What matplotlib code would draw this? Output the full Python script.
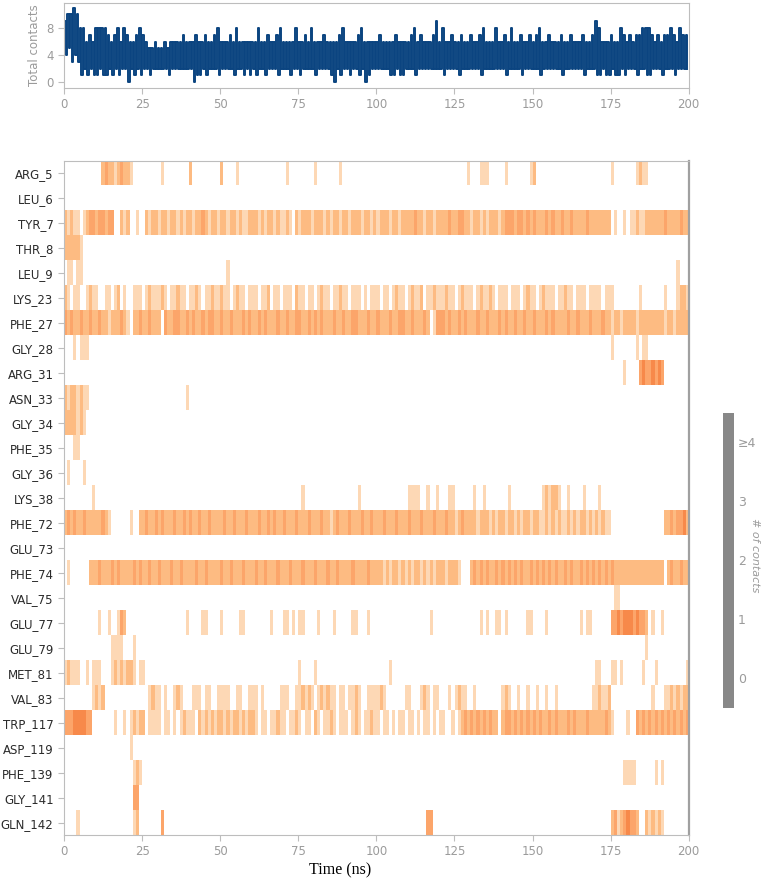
import numpy as np
import matplotlib
matplotlib.use("Agg")
import matplotlib.pyplot as plt
from matplotlib.colors import ListedColormap, BoundaryNorm

# residues, top to bottom
residues = ["ARG_5", "LEU_6", "TYR_7", "THR_8", "LEU_9", "LYS_23", "PHE_27",
            "GLY_28", "ARG_31", "ASN_33", "GLY_34", "PHE_35", "GLY_36",
            "LYS_38", "PHE_72", "GLU_73", "PHE_74", "VAL_75", "GLU_77",
            "GLU_79", "MET_81", "VAL_83", "TRP_117", "ASP_119", "PHE_139",
            "GLY_141", "GLN_142"]

# contacts per residue, one digit per ns (0..200 ns)
contacts = [
    # ARG_5
    "0000000000 0023221232 2100000000 0100000000 2000000000 2000010000 0000000000 0100000000 1000000010 0000000000 "
    "0000000000 0000000000 0000000001 0001110000 0100000001 2000000000 0000000000 0000010000 0001211000 0000000000",
    # LEU_6
    "0000000000 0000000000 0000000000 0000000000 0000000000 0000000000 0000000000 0000000000 0000000000 0000000000 "
    "0000000000 0000000000 0000000000 0000000000 0000000000 0000000000 0000000000 0000000000 0000000000 0000000000",
    # TYR_7
    "2121101233 2332330021 2001002122 1221221212 2122321221 2212212112 2212122121 1210212221 2221212212 2122212212 "
    "1222122122 2232212212 2223223322 1221212221 2333233232 3222323223 2232222322 2222201001 0112112222 2232222322",
    # THR_8
    "2222210000 0000000000 0000000000 0000000000 0000000000 0000000000 0000000000 0000000000 0000000000 0000000000 "
    "0000000000 0000000000 0000000000 0000000000 0000000000 0000000000 0000000000 0000000000 0000000000 0000000000",
    # LEU_9
    "0110110000 0000000000 0000000000 0000000000 0000000000 0010000000 0000000000 0000000000 0000000000 0000000000 "
    "0000000000 0000000000 0000000000 0000000000 0000000000 0000000000 0000000000 0000000000 0000000000 0000001000",
    # LYS_23
    "2101100121 1001101201 0011101211 1210112110 1121011211 2110121101 1101120110 1110211011 0121101121 1011101011 "
    "1011012110 1211201121 1121101211 1012112101 1101110121 1012111011 2110111011 1101110000 0000100000 0010001221",
    # PHE_27
    "3232232232 2322122232 1022322322 2032233223 2322323322 3223222323 2232322232 2322332232 3232223223 2233222322 "
    "3222322332 2322232013 3323223232 2232232223 2322322322 3222323222 2322322232 2232212212 2221222222 2212212222",
    # GLY_28
    "0001011100 0000000000 0000000000 0000000000 0000000000 0000000000 0000000000 0000000000 0000000000 0000000000 "
    "0000000000 0000000000 0000000000 0000000000 0000000000 0000000000 0000000000 0000010000 0001011000 0000000000",
    # ARG_31
    "0000000000 0000000000 0000000000 0000000000 0000000000 0000000000 0000000000 0000000000 0000000000 0000000000 "
    "0000000000 0000000000 0000000000 0000000000 0000000000 0000000000 0000000000 0000000001 0000343343 4300000000",
    # ASN_33
    "2122121100 0000000000 0000000000 0000000001 0000000000 0000000000 0000000000 0000000000 0000000000 0000000000 "
    "0000000000 0000000000 0000000000 0000000000 0000000000 0000000000 0000000000 0000000000 0000000000 0000000000",
    # GLY_34
    "2222121000 0000000000 0000000000 0000000000 0000000000 0000000000 0000000000 0000000000 0000000000 0000000000 "
    "0000000000 0000000000 0000000000 0000000000 0000000000 0000000000 0000000000 0000000000 0000000000 0000000000",
    # PHE_35
    "0001100000 0000000000 0000000000 0000000000 0000000000 0000000000 0000000000 0000000000 0000000000 0000000000 "
    "0000000000 0000000000 0000000000 0000000000 0000000000 0000000000 0000000000 0000000000 0000000000 0000000000",
    # GLY_36
    "0100001000 0000000000 0000000000 0000000000 0000000000 0000000000 0000000000 0000000000 0000000000 0000000000 "
    "0000000000 0000000000 0000000000 0000000000 0000000000 0000000000 0000000000 0000000000 0000000000 0000000000",
    # LYS_38
    "0000000001 0000000000 0000000000 0000000000 0000000000 0000000000 0000000000 0000001000 0000000000 0000100000 "
    "0000000000 1111001001 0001100000 0100100000 0010000000 0001212210 0100001000 0100000000 0000000000 0000000000",
    # PHE_72
    "2323223222 2232100000 0100223223 2322232232 3223223222 2322322232 2232232322 3222322232 2232212322 2322232232 "
    "2232223222 3222322232 2232212322 2212221212 2122121221 2211212121 1212122121 2121100000 0000000000 0022323342",
    # GLU_73
    "0000000000 0000000000 0000000000 0000000000 0000000000 0000000000 0000000000 0000000000 0000000000 0000000000 "
    "0000000000 0000000000 0000000000 0000000000 0000000000 0000000000 0000000000 0000000000 0000000000 0000000000",
    # PHE_74
    "0100000022 2322232322 2232322322 3222322322 2232232222 3223222322 2322322232 2232223222 3222322322 2232222322 "
    "2212122121 2122121212 2212221000 2323232232 3232323223 2323232322 3232232323 2323232222 2222222222 2202322322",
    # VAL_75
    "0000000000 0000000000 0000000000 0000000000 0000000000 0000000000 0000000000 0000000000 0000000000 0000000000 "
    "0000000000 0000000000 0000000000 0000000000 0000000000 0000000000 0000000000 0000001100 0000000000 0000000000",
    # GLU_77
    "0000000000 0100100132 0000000000 0000000001 0000110000 1000001100 0000001000 1101011000 0100001000 0011000100 "
    "0000000000 0000000100 0000000000 0001010011 0100000011 0000100000 0000010110 0000033434 4434332010 0100000000",
    # GLU_79
    "0000000000 0000011110 0010000000 0000000000 0000000000 0000000000 0000000000 0000000000 0000000000 0000000000 "
    "0000000000 0000000000 0000000000 0000000000 0000000000 0000000000 0000000000 0000000000 0000001000 0000000000",
    # MET_81
    "1211100101 1100012121 2210110000 0000000000 0000000000 0000000000 0000000000 0000010000 1000000000 0000000000 "
    "0000100000 0000000000 0000000000 0000000000 0000000000 0000000000 0000000000 1100011010 0000010001 0000000001",
    # VAL_83
    "0000000001 2120000000 0000000121 1010012100 0111011001 1110011001 1101000001 1100112121 0121211011 0112100111 "
    "1210000001 1000121011 0001012110 0100000000 1210010010 0100100100 0000000001 1211200000 0000000010 0011212122",
    # TRP_117
    "3334444330 0000001001 0121220111 1011010121 1102121212 2121221212 2101101121 1011210110 2101121011 1012101121 "
    "1011010110 1101011010 1100101232 3232323220 2332323232 3232232322 2323222322 2223210000 1003232323 2323232323",
    # ASP_119
    "0000000000 0000000000 0100000000 0000000000 0000000000 0000000000 0000000000 0000000000 0000000000 0000000000 "
    "0000000000 0000000000 0000000000 0000000000 0000000000 0000000000 0000000000 0000000000 0000000000 0000000000",
    # PHE_139
    "0000000000 0000000000 0012100000 0000000000 0000000000 0000000000 0000000000 0000000000 0000000000 0000000000 "
    "0000000000 0000000000 0000000000 0000000000 0000000000 0000000000 0000000000 0000000001 1110000001 0100000000",
    # GLY_141
    "0000000000 0000000000 0033000000 0000000000 0000000000 0000000000 0000000000 0000000000 0000000000 0000000000 "
    "0000000000 0000000000 0000000000 0000000000 0000000000 0000000000 0000000000 0000000000 0000000000 0000000000",
    # GLN_142
    "0000100000 0000000000 0012000000 0300000000 0000000000 0000000000 0000000000 0000000000 0000000000 0000000000 "
    "0000000000 0000003300 0000000000 0000000000 0000000000 0000000000 0000000000 0000023123 4332002121 2100000000",
]

# total contacts: per-ns upper and lower swing of the trace (hex digits)
total_high = ("9aaba88676 8888767868 7667876556 5565666676 6676676678 6667686666 6686676678 6666866768 6667666678 6666786666 "
              "6766667666 6786766679 6866766766 7667866686 6768667667 6786676667 6676667667 9866676687 6767788876 7677876877")
total_low = ("4534312121 1211212122 0212122122 2221222222 2011212221 2222122121 2122122212 2212212222 1222210212 2122120122 "
             "2222112112 2212222222 2122221222 2221222222 2122221222 2212222221 2222221222 1121121121 2221221122 2122212222")

cbar_labels = ["0", "1", "2", "3", "\u22654"]

grid = np.array([[int(c) for c in row.replace(" ", "")] for row in contacts])
assert grid.shape == (len(residues), 200)
hi = np.array([int(c, 16) for c in total_high.replace(" ", "")])
lo = np.array([int(c, 16) for c in total_low.replace(" ", "")])

grey = "#9b9b9b"
spine = "#bdbdbd"

fig = plt.figure(figsize=(7.62, 8.8), dpi=100)

# --- total contacts trace
ax_top = fig.add_axes([0.084, 0.9005, 0.8198, 0.0962])
t = np.arange(200)
xs = np.column_stack([t, t + 0.5]).ravel()
ys = np.column_stack([hi, lo]).ravel()
ax_top.plot(xs, ys, color="#0b4480", lw=1.4, drawstyle="steps-post")
ax_top.set_xlim(0, 200)
ax_top.set_ylim(-0.8, 11.7)
ax_top.set_yticks([0, 4, 8])
ax_top.set_xticks(range(0, 201, 25))
ax_top.set_ylabel("Total contacts", color=grey, fontsize=8.5, labelpad=4)
ax_top.tick_params(colors=spine, labelcolor=grey, labelsize=8.5, length=4)
for s in ax_top.spines.values():
    s.set_color(spine)

# --- per-residue timeline
cmap = ListedColormap(["#ffffff", "#fdd8b5", "#fdbb82", "#fca56a", "#f7894a"])
norm = BoundaryNorm([-0.5, 0.5, 1.5, 2.5, 3.5, 4.5], cmap.N)
ax = fig.add_axes([0.084, 0.0511, 0.8198, 0.766])
ax.imshow(grid, cmap=cmap, norm=norm, aspect="auto", interpolation="nearest",
          extent=(0, 200, len(residues) - 0.5, -0.5))
ax.set_xlim(0, 200)
ax.set_yticks(range(len(residues)))
ax.set_yticklabels(residues)
ax.set_xticks(range(0, 201, 25))
ax.tick_params(axis="y", colors=spine, labelcolor="#2b2b2b", labelsize=8.5, length=4)
ax.tick_params(axis="x", colors=spine, labelcolor=grey, labelsize=8.5, length=4)
for s in ax.spines.values():
    s.set_color(spine)
ax.spines["right"].set_color("#a0a0a0")
ax.spines["right"].set_linewidth(1.6)
fig.text(340 / 762, 1 - 870 / 880, "Time (ns)", family="Liberation Serif",
         fontsize=11.5, ha="center", va="center")

# --- colour key
cax = fig.add_axes([0.9488, 0.1955, 0.0144, 0.3352])
cax.set_facecolor("#888888")
cax.set_xlim(0, 1)
cax.set_ylim(0, 5)
cax.set_xticks([])
cax.set_yticks([0.5, 1.5, 2.5, 3.5, 4.5])
cax.set_yticklabels(cbar_labels)
cax.yaxis.tick_right()
cax.tick_params(axis="y", length=0, pad=3, labelcolor=grey, labelsize=9)
for s in cax.spines.values():
    s.set_visible(False)
fig.text(755 / 762, 1 - 555 / 880, "# of contacts", rotation=270, style="italic",
         color=grey, fontsize=8, ha="center", va="center")

fig.savefig("out.png", dpi=100)
